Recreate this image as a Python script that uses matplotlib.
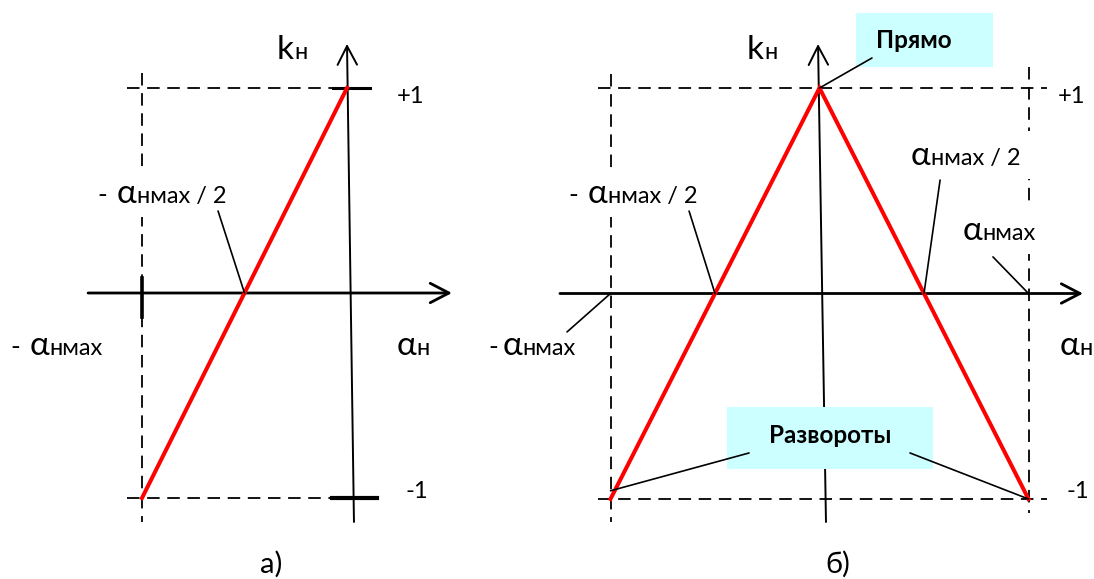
import matplotlib
matplotlib.use('Agg')
import matplotlib.pyplot as plt
from matplotlib.patches import Rectangle
from matplotlib.transforms import Bbox

plt.rcParams['font.family'] = ['Lato', 'DejaVu Sans']
plt.rcParams['lines.scale_dashes'] = False

# а) линейная зависимость k_н от α_н (в долях α_нмах)
a_alpha = [-1, 0]
a_k = [-1, 1]
# б) треугольная зависимость: прямо в центре, развороты по краям
b_alpha = [-1, 0, 1]
b_k = [-1, 1, -1]

BIG, SMALL, BOLD = 24, 17, 17.5
RED = '#ff0000'
CYAN = '#ccffff'
DASH = (9, 5.5)

W, H = 1094, 579
fig = plt.figure(figsize=(W / 100, H / 100), dpi=100)
renderer = fig.canvas.get_renderer()


def panel(left, right, x0, sx, y0, sy):
    ax = fig.add_axes([left / W, 0, (right - left) / W, 1])
    ax.set_xlim((left - x0) / sx, (right - x0) / sx)
    ax.set_ylim((y0 - H) / sy, y0 / sy)
    ax.axis('off')
    return ax


def axis_arrow(ax, start, tip, lw):
    ax.annotate('', xy=tip, xytext=start, zorder=3,
                arrowprops=dict(arrowstyle='->,head_length=13.5,head_width=7',
                                mutation_scale=1, lw=lw, color='black',
                                shrinkA=0, shrinkB=0))


def leader(ax, start, point):
    ax.annotate('', xy=point, xytext=start, zorder=5,
                arrowprops=dict(arrowstyle='-', lw=1.2, color='black',
                                shrinkA=0, shrinkB=0))


def dashed(ax, xs, ys):
    ax.plot(xs, ys, color='black', lw=1.3, dashes=DASH, zorder=2)


def txt(ax, x, y, s, size=SMALL, **kw):
    return ax.text(x, y, s, fontsize=size, va='baseline', zorder=6, **kw)


def symbol_label(ax, x, y, sym, rest, minus=None, mask=False):
    # большой символ (α или k) и мелкий индекс вслед за ним
    parts = []
    if minus is not None:
        parts.append(txt(ax, minus, y, '-', 19))
    a = txt(ax, x, y, sym, BIG)
    parts.append(a)
    x1 = ax.transData.inverted().transform(a.get_window_extent(renderer).p1)[0]
    parts.append(txt(ax, x1, y, rest))
    if mask:
        bb = Bbox.union([t.get_window_extent(renderer) for t in parts])
        (mx0, my0), (mx1, my1) = ax.transData.inverted().transform(
            [(bb.x0 - 12, bb.y0 - 8), (bb.x1 + 12, bb.y1 + 10)])
        ax.add_patch(Rectangle((mx0, my0), mx1 - mx0, my1 - my0,
                               facecolor='white', edgecolor='none', zorder=3.5))


def box(ax, x0, y0, x1, y1):
    ax.add_patch(Rectangle((x0, y0), x1 - x0, y1 - y0, facecolor=CYAN,
                           edgecolor='none', zorder=4))


# ---------- а) ----------
ax = panel(0, 540, 347, 205, 293, 205)

dashed(ax, [-1.073, -0.068], [1, 1])
dashed(ax, [-1.073, -0.073], [-1, -1])
dashed(ax, [-1, -1], [1.073, -1.117])

axis_arrow(ax, (-1.263, 0), (0.512, 0), 2.0)
axis_arrow(ax, (0.034, -1.117), (0, 1.215), 1.4)

ax.plot([-0.068, 0.112], [1, 1], color='black', lw=2.2, zorder=3)
ax.plot([-0.073, 0.146], [-1, -1], color='black', lw=3.0, zorder=3)
ax.plot([-1, -1], [0.073, -0.117], color='black', lw=2.6, zorder=3)

ax.plot(a_alpha, a_k, color=RED, lw=2.9, zorder=4.5, solid_joinstyle='miter')

symbol_label(ax, -0.341, 1.141, 'k', 'н')
txt(ax, 0.244, 0.927, '+1')
txt(ax, 0.283, -1.0, '-1')
symbol_label(ax, -1.122, 0.439, 'α', 'нмах / 2', minus=-1.220, mask=True)
leader(ax, (-0.629, 0.400), (-0.5, 0))
symbol_label(ax, -1.546, -0.302, 'α', 'нмах', minus=-1.644)
symbol_label(ax, 0.244, -0.302, 'α', 'н')
txt(ax, -0.424, -1.366, 'а)', 21)

# ---------- б) ----------
bx = panel(540, 1094, 819.5, 209, 293.5, 205.5)

dashed(bx, [-1.06, 1.089], [1, 1])
dashed(bx, [-1.06, 1.089], [-1, -1])
dashed(bx, [-1, -1], [1.068, -1.112])
dashed(bx, [1, 1], [1.102, -1.068])

axis_arrow(bx, (-1.242, 0), (1.261, 0), 2.0)
axis_arrow(bx, (0.031, -1.112), (-0.007, 1.214), 1.4)

bx.plot(b_alpha, b_k, color=RED, lw=2.9, zorder=4.5, solid_joinstyle='miter')

symbol_label(bx, -0.347, 1.141, 'k', 'н')
txt(bx, 1.141, 0.927, '+1')
txt(bx, 1.184, -0.995, '-1')

box(bx, 0.175, 1.102, 0.830, 1.365)
txt(bx, 0.27, 1.195, 'Прямо', BOLD, fontweight='bold')
leader(bx, (0.251, 1.146), (b_alpha[1], b_k[1]))

symbol_label(bx, -1.108, 0.440, 'α', 'нмах / 2', minus=-1.203, mask=True)
leader(bx, (-0.624, 0.401), (-0.5, 0))
symbol_label(bx, 0.438, 0.625, 'α', 'нмах / 2', mask=True)
leader(bx, (0.577, 0.552), (0.5, 0))
symbol_label(bx, 0.687, 0.260, 'α', 'нмах', mask=True)
leader(bx, (0.830, 0.178), (1, 0))
symbol_label(bx, -1.514, -0.299, 'α', 'нмах', minus=-1.586)
leader(bx, (-1.208, -0.187), (-1, 0))
symbol_label(bx, 1.151, -0.299, 'α', 'н')

box(bx, -0.443, -0.854, 0.543, -0.552)
txt(bx, 0.05, -0.727, 'Развороты', BOLD, fontweight='bold', ha='center')
leader(bx, (-0.337, -0.776), (b_alpha[0], b_k[0] + 0.04))
leader(bx, (0.433, -0.776), (b_alpha[2], b_k[2]))

txt(bx, 0.026, -1.360, 'б)', 21)

fig.savefig('out.png', dpi=100)
